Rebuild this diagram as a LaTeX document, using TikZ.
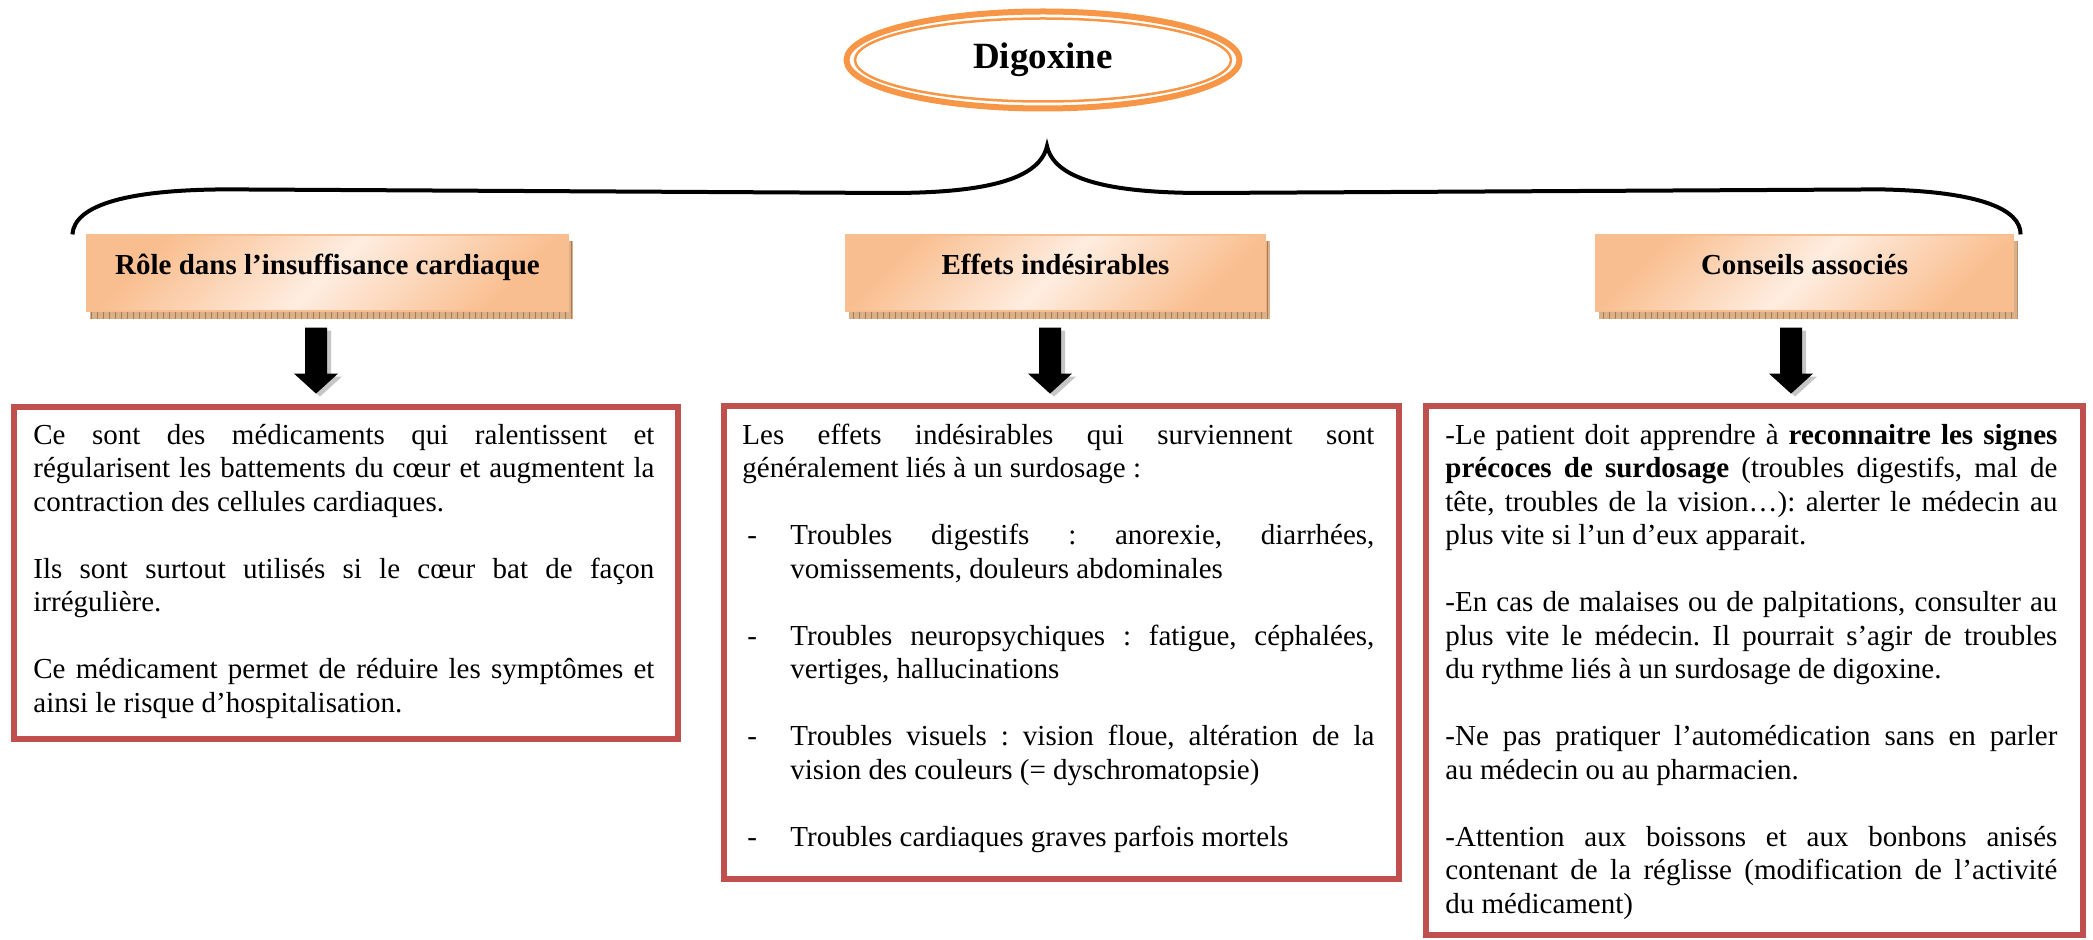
\documentclass[tikz,border=0pt]{standalone}
\usepackage{fontspec}
\setmainfont{Liberation Serif}
\usepackage{tikz}
\usetikzlibrary{shapes}
\usetikzlibrary{patterns}
\usetikzlibrary{calc}
\usetikzlibrary{backgrounds}
\setlength{\parindent}{0pt}
\frenchspacing
\hyphenpenalty=10000
\exhyphenpenalty=10000
\definecolor{ellorange}{RGB}{247,150,70}
\definecolor{boxred}{RGB}{192,80,77}
\definecolor{hdrdark}{RGB}{249,190,143}
\definecolor{hdrlight}{RGB}{254,237,224}
\definecolor{shadtan}{RGB}{216,176,138}
\definecolor{shadline}{RGB}{178,120,76}
\newcommand{\tiret}{\par\hangindent=24pt\hangafter=1\hspace*{2.5pt}\makebox[21.5pt][l]{-}}

\tikzset{
  titleell/.style={ellipse, draw=ellorange, line width=3pt, minimum width=196.5pt, minimum height=48.5pt, inner sep=0pt, font=\fontsize{18.5}{22}\selectfont\bfseries},
  hdr/.style={draw=hdrdark, line width=0.6pt, left color=hdrdark, right color=hdrdark, middle color=hdrlight, shading angle=45, minimum height=38pt, inner sep=0pt, text height=20pt, text depth=18pt, font=\fontsize{14.5}{16.75}\selectfont\bfseries},
  frame/.style={draw=boxred, line width=3pt, inner sep=0pt},
  txt/.style={anchor=north west, inner sep=0pt, align=justify, font=\fontsize{14.5}{16.75}\selectfont, execute at begin node={\setlength{\parskip}{16.75pt}}}
}

\begin{document}
\begin{tikzpicture}[x=0.5pt,y=0.5pt,yscale=-1,xscale=1]
\useasboundingbox (0,0) rectangle (2093,940);

%Shape: Ellipse [title]
\node[titleell] (dig) at (1043,60) {Digoxine};
\draw[ellorange, line width=1.25pt] (dig.center) ellipse [x radius=188, y radius=41.5];

%Shape: Rectangle [headers]
\node[hdr, minimum width=240.5pt] (h1) at (327.5,273) {Rôle dans l’insuffisance cardiaque};
\node[hdr, minimum width=209.5pt] (h2) at (1055.5,273) {Effets indésirables};
\node[hdr, minimum width=208.5pt] (h3) at (1804.5,273) {Conseils associés};

\begin{scope}[on background layer]
\foreach \h in {h1,h2,h3} {
  \fill[shadtan] ($(\h.south west)+(4,7)$) rectangle ($(\h.north east)+(4,7)$);
  \fill[pattern=vertical lines, pattern color=shadline] ($(\h.south west)+(4,7)$) rectangle ($(\h.north east)+(4,7)$);
}
\end{scope}

%Curve Lines [brace]
\coordinate (brL) at ($(h1.north west)+(-14,0)$);
\coordinate (brM) at ($(dig.south)+(4,34.5)$);
\coordinate (brR) at ($(h3.north east)+(7,0)$);
\draw[line width=2pt] (brL) .. controls ($(brL)+(2,-30)$) and ($(brL)+(57,-45)$) .. ($(brL)+(157,-45)$) -- ($(brM)+(-157,47)$) .. controls ($(brM)+(-57,47)$) and ($(brM)+(-7,32)$) .. (brM) .. controls ($(brM)+(7,32)$) and ($(brM)+(57,47)$) .. ($(brM)+(157,47)$) -- ($(brR)+(-140,-45)$) .. controls ($(brR)+(-40,-43)$) and ($(brR)+(0,-25)$) .. (brR);

%Shape: Rectangle [frames]
\node[frame, minimum width=332pt, minimum height=165.75pt] (f1) at (346,573) {};
\node[frame, minimum width=337.5pt, minimum height=236.5pt] (f2) at (1061.5,642.5) {};
\node[frame, minimum width=328.5pt, minimum height=264.5pt] (f3) at (1754.5,670.5) {};

%Shape: Down Arrow
\foreach \h/\dx in {h1/-11.5,h2/-5.5,h3/-13.5} {
  \begin{scope}[shift={($(\h.south)+(\dx,16)$)}]
    \fill[gray!45] (-7,3) -- (15,3) -- (15,49) -- (26,49) -- (4,69) -- (-18,49) -- (-7,49) -- cycle;
    \fill[black] (-11,0) -- (11,0) -- (11,46) -- (22,46) -- (0,66) -- (-22,46) -- (-11,46) -- cycle;
  \end{scope}
}

%Text
\node[txt, text width=310.5pt] (t1) at ($(f1.north west)+(22,16)$) {\strut Ce sont des médicaments qui ralentissent et régularisent les battements du cœur et augmentent la contraction des cellules cardiaques.\par
Ils sont surtout utilisés si le cœur bat de façon irrégulière.\par
Ce médicament permet de réduire les symptômes et ainsi le risque d’hospitalisation.};

\node[txt, text width=316pt] (t2) at ($(f2.north west)+(21,17.5)$) {\strut Les effets indésirables qui surviennent sont généralement liés à un surdosage~:
\tiret Troubles digestifs~: anorexie, diarrhées, vomissements, douleurs abdominales
\tiret Troubles neuropsychiques~: fatigue, céphalées, vertiges, hallucinations
\tiret Troubles visuels~: vision floue, altération de la vision des couleurs (= dyschromatopsie)
\tiret Troubles cardiaques graves parfois mortels};

\node[txt, text width=306pt] (t3) at ($(f3.north west)+(22,17.5)$) {\strut -Le patient doit apprendre à \textbf{reconnaitre les signes précoces de surdosage} (troubles digestifs, mal de tête, troubles de la vision…): alerter le médecin au plus vite si l’un d’eux apparait.\par
-En cas de malaises ou de palpitations, consulter au plus vite le médecin. Il pourrait s’agir de troubles\linebreak du rythme liés à un surdosage de digoxine.\par
-Ne pas pratiquer l’automédication sans en parler\linebreak au médecin ou au pharmacien.\par
-Attention aux boissons et aux bonbons anisés contenant de la réglisse (modification de l’activité\linebreak du médicament)};

\end{tikzpicture}
\end{document}
